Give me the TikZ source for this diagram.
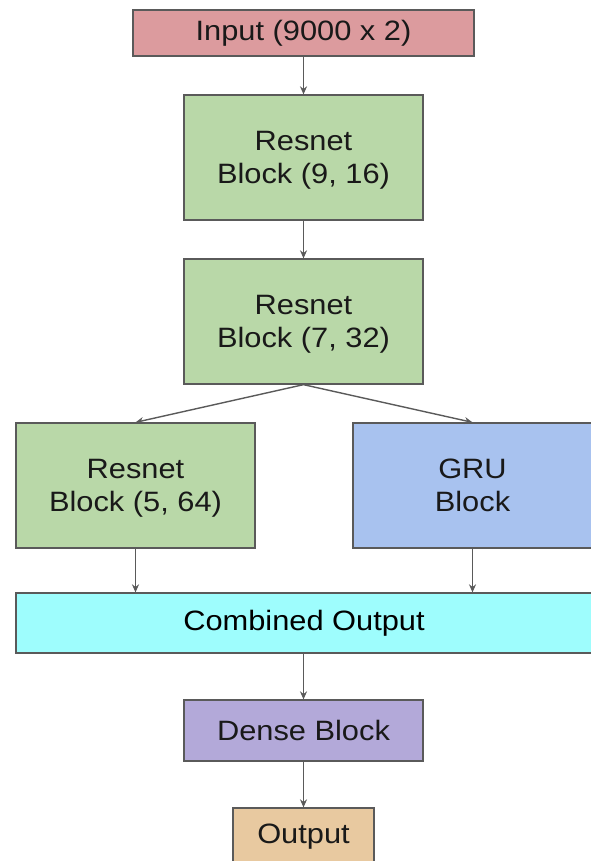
\documentclass[tikz,border=0pt]{standalone}
\usepackage{fontspec}
\setmainfont[FakeStretch=1.1]{Liberation Sans}
\usetikzlibrary{arrows.meta}
\definecolor{cin}{HTML}{DC9B9E}
\definecolor{cgreen}{HTML}{B9D8A8}
\definecolor{cblue}{HTML}{A8C2EF}
\definecolor{ccyan}{HTML}{9EFDFD}
\definecolor{cpurple}{HTML}{B3A9D9}
\definecolor{ctan}{HTML}{E8C9A0}
\definecolor{cline}{HTML}{5A5A5A}
\begin{document}
\begin{tikzpicture}[x=1pt,y=-1pt,
  blk/.style={draw=cline, line width=1.3pt, inner sep=0pt, align=center,
    font=\fontsize{28}{33}\selectfont, text=black!90},
  conn/.style={draw=cline, line width=1.4pt, -{Stealth[length=8pt,width=7pt]}}]
\useasboundingbox (0,0) rectangle (590,861);
\node[blk, fill=cin, minimum width=341pt, minimum height=46pt] (in) at (303.5,33) {Input (9000 x 2)};
\node[blk, fill=cgreen, minimum width=239pt, minimum height=125pt] (r1) at (303.5,157.5) {\rule{0pt}{24pt}Resnet\\Block (9, 16)};
\node[blk, fill=cgreen, minimum width=239pt, minimum height=125pt] (r2) at (303.5,321.5) {\rule{0pt}{24pt}Resnet\\Block (7, 32)};
\node[blk, fill=cgreen, minimum width=239pt, minimum height=125pt] (r3) at (135.5,485.5) {\rule{0pt}{24pt}Resnet\\Block (5, 64)};
\node[blk, fill=cblue, minimum width=239pt, minimum height=125pt] (gru) at (472.5,485.5) {GRU\\Block};
\node[blk, fill=ccyan, minimum width=578pt, minimum height=60pt] (comb) at (305,623) {};
\node (combt) at (304,623) {\fontsize{28}{33}\selectfont Combined Output};
\node[blk, fill=cpurple, minimum width=239pt, minimum height=61pt] (dense) at (303.5,730.5) {Dense Block};
\node[blk, fill=ctan, minimum width=141pt, minimum height=58pt] (out) at (303.5,837) {Output};
\draw[conn] (in.south) -- (r1.north);
\draw[conn] (r1.south) -- (r2.north);
\draw[conn] (r2.south) -- (r3.north);
\draw[conn] (r2.south) -- (gru.north);
\draw[conn] (r3.south) -- (r3.south |- comb.north);
\draw[conn] (gru.south) -- (gru.south |- comb.north);
\draw[conn] (comb.south -| dense.north) -- (dense.north);
\draw[conn] (dense.south) -- (out.north);
\end{tikzpicture}
\end{document}
